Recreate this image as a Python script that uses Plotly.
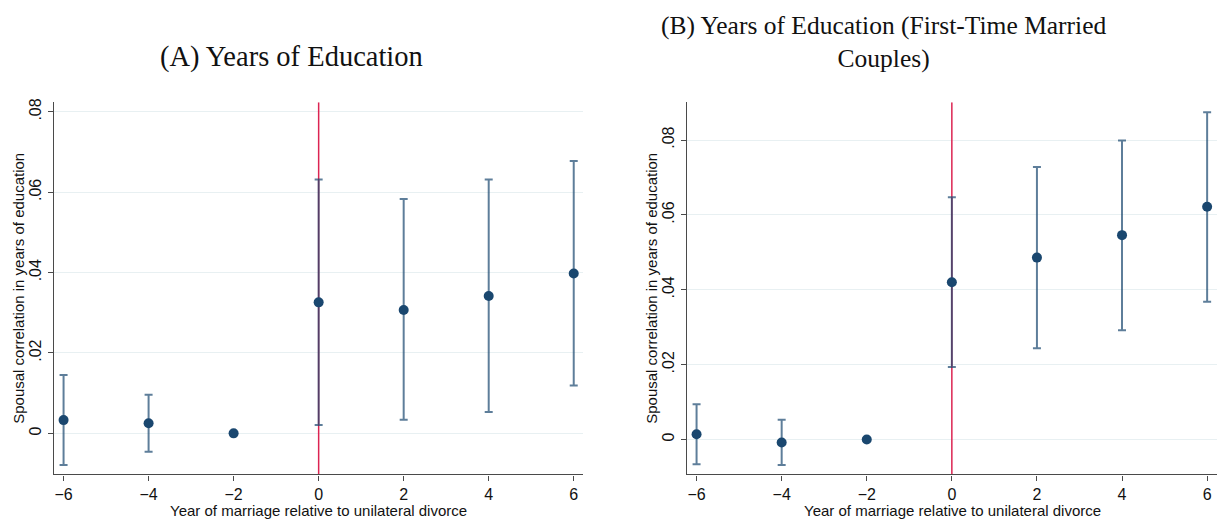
import numpy as np
import plotly.graph_objects as go

# Event-time (year of marriage relative to unilateral divorce)
years = [-6, -4, -2, 0, 2, 4, 6]

# Panel A: all couples
est_a = [0.0033, 0.0025, 0.0, 0.0326, 0.0307, 0.0342, 0.0398]
lo_a = [-0.0079, -0.0046, 0.0, 0.0021, 0.0034, 0.0053, 0.0119]
hi_a = [0.0145, 0.0096, 0.0, 0.0632, 0.0583, 0.0632, 0.0678]

# Panel B: first-time married couples
est_b = [0.0014, -0.0008, 0.0, 0.0420, 0.0486, 0.0546, 0.0622]
lo_b = [-0.0066, -0.0068, 0.0, 0.0194, 0.0244, 0.0292, 0.0368]
hi_b = [0.0094, 0.0053, 0.0, 0.0647, 0.0728, 0.0799, 0.0874]

x_ticks = [-6, -4, -2, 0, 2, 4, 6]
y_ticks = [0, 0.02, 0.04, 0.06, 0.08]
y_ticktext = ["0", ".02", ".04", ".06", ".08"]

titles = ["(A) Years of Education", "(B) Years of Education (First-Time Married<br>Couples)"]
x_title = "Year of marriage relative to unilateral divorce"
y_title = "Spousal correlation in years of education"

NAVY = "#1a476f"
BAR = "rgba(26,71,111,0.7)"
RED = "#dc2452"
AXIS = "#4a4a4a"
GRID = "#e8f0f2"
SANS = "Liberation Sans, Arial, sans-serif"
SERIF = "Liberation Serif, Times New Roman, serif"

W, H = 1221, 521
fig = go.Figure()

# domains in paper coordinates
x_dom = [(54 / W, 583.3 / W), (687 / W, 1216.7 / W)]
y_dom = ((H - 474) / H, (H - 99) / H)
y_ranges = [(-0.0102, 0.0824), (-0.0093, 0.0901)]
x_range = (-6.225, 6.225)

panels = [
    (est_a, lo_a, hi_a, "x", "y", y_ranges[0]),
    (est_b, lo_b, hi_b, "x2", "y2", y_ranges[1]),
]
for est, lo, hi, xa, ya, yr in panels:
    # vertical reference line at event time 0, spanning the full panel height
    fig.add_trace(go.Scatter(
        x=[0, 0], y=list(yr), xaxis=xa, yaxis=ya, mode="lines",
        line=dict(color=RED, width=1.5), showlegend=False, hoverinfo="skip",
        cliponaxis=False,
    ))
    est = np.array(est)
    up = np.array(hi) - est
    dn = est - np.array(lo)
    fig.add_trace(go.Scatter(
        x=years, y=est, xaxis=xa, yaxis=ya, mode="markers",
        marker=dict(color=NAVY, size=10),
        error_y=dict(type="data", symmetric=False, array=up, arrayminus=dn,
                     color=BAR, thickness=2, width=4, visible=True),
        showlegend=False, hoverinfo="skip",
    ))

common_x = dict(range=x_range, tickvals=x_ticks, ticks="outside", ticklen=5,
                tickcolor=AXIS, showline=True, linecolor=AXIS, linewidth=1.3,
                showgrid=False, zeroline=False,
                tickfont=dict(family=SANS, size=16, color="#111"))
common_y = dict(tickvals=y_ticks, ticktext=y_ticktext, tickangle=-90,
                ticks="outside", ticklen=5, tickcolor=AXIS, showline=True,
                linecolor=AXIS, linewidth=1.3, showgrid=True, gridcolor=GRID,
                gridwidth=1.3, zeroline=False,
                tickfont=dict(family=SANS, size=16, color="#111"))

fig.update_layout(
    width=W, height=H, margin=dict(l=0, r=0, t=0, b=0),
    paper_bgcolor="white", plot_bgcolor="white",
    xaxis=dict(domain=x_dom[0], anchor="y", **common_x),
    yaxis=dict(domain=y_dom, anchor="x", range=y_ranges[0], **common_y),
    xaxis2=dict(domain=x_dom[1], anchor="y2", **common_x),
    yaxis2=dict(domain=y_dom, anchor="x2", range=y_ranges[1], **common_y),
)

# panel titles
fig.add_annotation(text=titles[0], xref="paper", yref="paper", x=291 / W, y=1 - 53 / H,
                   showarrow=False, xanchor="center", yanchor="middle",
                   font=dict(family=SERIF, size=28.5, color="#111"))
fig.add_annotation(text=titles[1], xref="paper", yref="paper", x=884 / W, y=1 - 38 / H,
                   showarrow=False, xanchor="center", yanchor="middle",
                   font=dict(family=SERIF, size=25.5, color="#111"))

# axis titles
for cx in [318.6, 952]:
    fig.add_annotation(text=x_title, xref="paper", yref="paper", x=cx / W, y=1 - 510 / H,
                       showarrow=False, xanchor="center", yanchor="middle",
                       font=dict(family=SANS, size=15, color="#111"))
for cx in [18.5, 651.5]:
    fig.add_annotation(text=y_title, xref="paper", yref="paper", x=cx / W, y=1 - 286.5 / H,
                       showarrow=False, xanchor="center", yanchor="middle", textangle=-90,
                       font=dict(family=SANS, size=15, color="#111"))

fig.write_html("out.html")
